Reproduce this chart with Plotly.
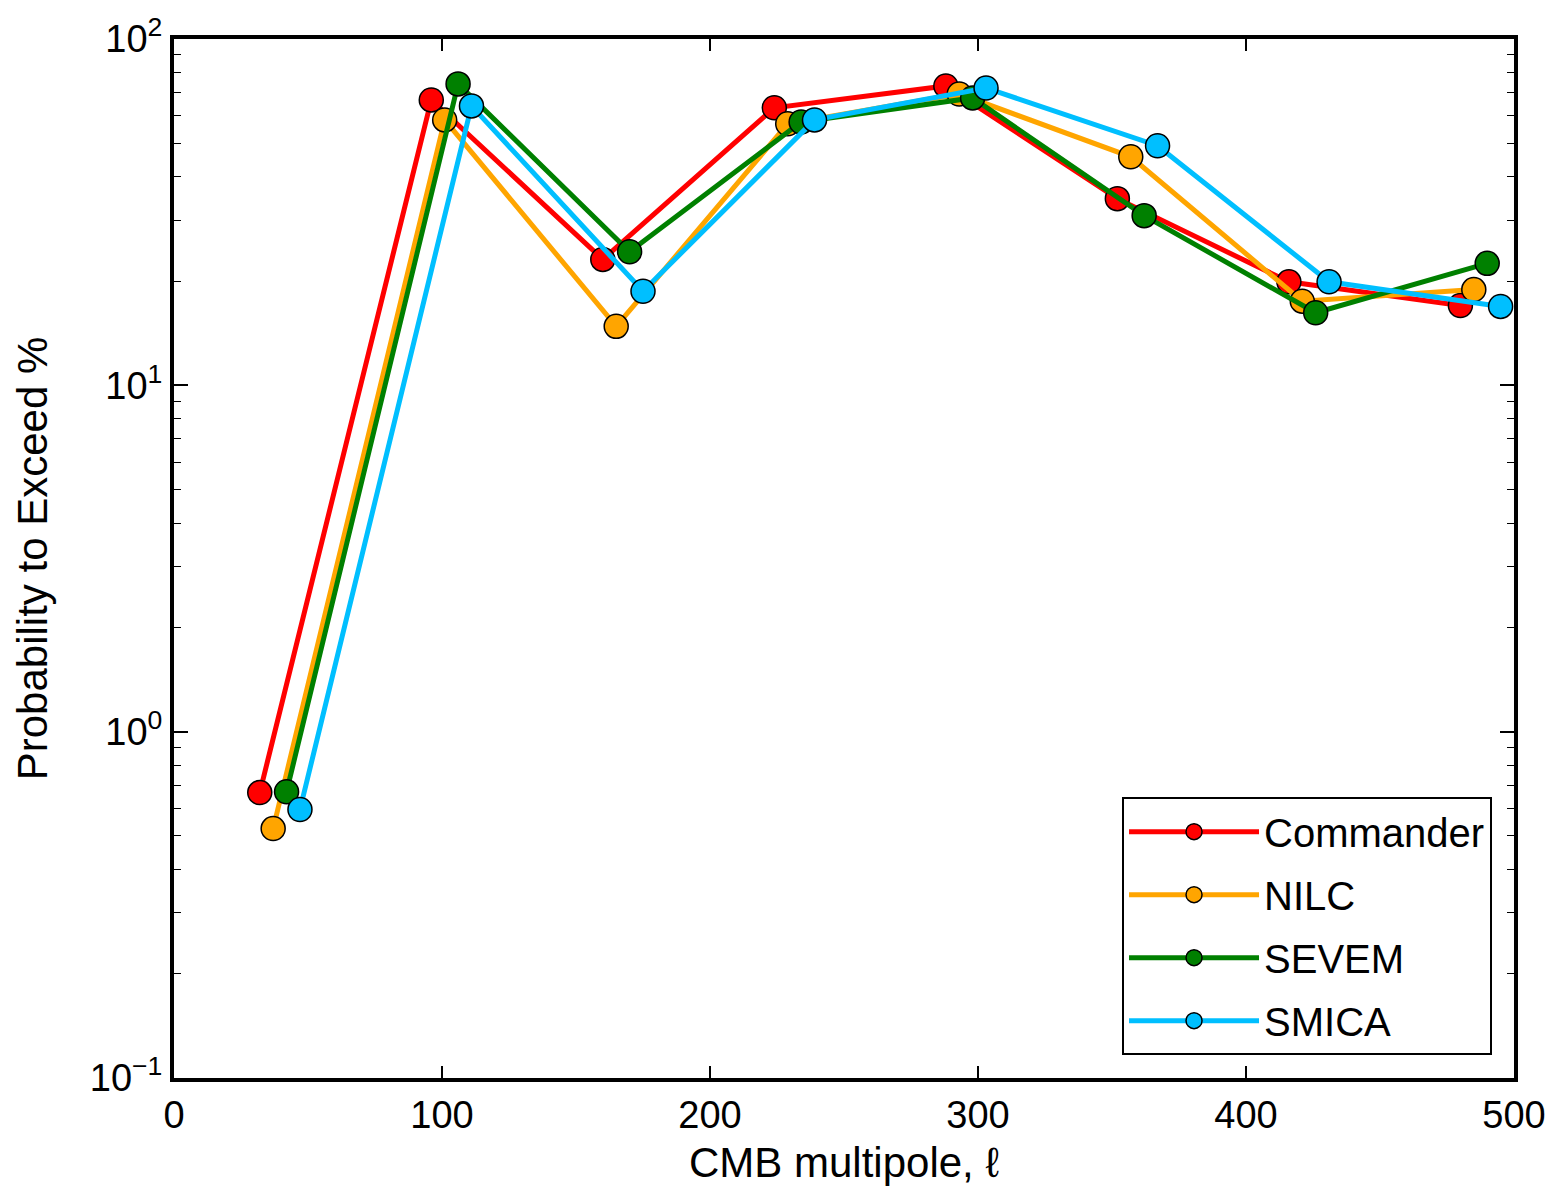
import plotly.graph_objects as go

# multipole bin centres (each method offset for visibility)
ell_commander = [32, 96, 160, 224, 288, 352, 416, 480]
ell_nilc = [37, 101, 165, 229, 293, 357, 421, 485]
ell_sevem = [42, 106, 170, 234, 298, 362, 426, 490]
ell_smica = [47, 111, 175, 239, 303, 367, 431, 495]

# probability to exceed, percent
pte_commander = [0.667, 66.7, 23.1, 63.3, 73.2, 34.6, 19.9, 17.0]
pte_nilc = [0.525, 58.4, 14.8, 56.9, 69.4, 45.7, 17.5, 18.9]
pte_sevem = [0.671, 74.2, 24.3, 57.6, 67.6, 30.9, 16.2, 22.5]
pte_smica = [0.596, 64.1, 18.7, 58.4, 72.2, 49.2, 19.9, 16.9]

series = [
    ("Commander", ell_commander, pte_commander, "#ff0000"),
    ("NILC", ell_nilc, pte_nilc, "#ffa500"),
    ("SEVEM", ell_sevem, pte_sevem, "#008000"),
    ("SMICA", ell_smica, pte_smica, "#00bfff"),
]

x_tickvals = [0, 100, 200, 300, 400, 500]
y_tickvals = [0.1, 1, 10, 100]
y_ticktext = ["10<sup>\u22121</sup>", "10<sup>0</sup>", "10<sup>1</sup>", "10<sup>2</sup>"]
y_minor_vals = [m * d for d in (0.1, 1, 10) for m in range(2, 10)]

FONT = "Liberation Sans, Arial, sans-serif"

fig = go.Figure()
for name, xs, ys, col in series:
    fig.add_trace(go.Scatter(
        x=xs, y=ys, name=name, mode="lines+markers", legendgroup=name,
        line=dict(color=col, width=5),
        marker=dict(size=24, color=col, line=dict(color="black", width=1.5)),
    ))

fig.update_layout(
    width=1558, height=1192,
    margin=dict(l=174, r=39, t=37, b=114),
    paper_bgcolor="white", plot_bgcolor="white",
    font=dict(family=FONT, size=36, color="black"),
    showlegend=True,
    legend=dict(
        x=0.9836, y=0.022, xanchor="right", yanchor="bottom",
        bordercolor="black", borderwidth=2, bgcolor="white",
        font=dict(size=40, family=FONT), tracegroupgap=8,
        itemwidth=130,
    ),
)

fig.update_xaxes(
    range=[0, 500], tickvals=x_tickvals, ticks="inside", ticklen=12, tickwidth=1.5,
    tickcolor="black", showgrid=False, zeroline=False,
    showline=True, linecolor="black", linewidth=4, mirror="allticks",
    title=dict(text="CMB multipole, \u2113", font=dict(size=42, family=FONT), standoff=14),
    tickfont=dict(size=38, family=FONT),
)
fig.update_yaxes(
    type="log", range=[-1, 2], tickvals=y_tickvals, ticktext=y_ticktext,
    ticks="inside", ticklen=14, tickwidth=1.5, tickcolor="black",
    showgrid=False, zeroline=False,
    showline=True, linecolor="black", linewidth=4, mirror="allticks",
    minor=dict(tickmode="array", tickvals=y_minor_vals, ticks="inside", ticklen=7,
               tickwidth=1, tickcolor="black", showgrid=False),
    title=dict(text="Probability to Exceed %", font=dict(size=42, family=FONT), standoff=30),
    tickfont=dict(size=38, family=FONT),
)

fig.write_html("out.html")
